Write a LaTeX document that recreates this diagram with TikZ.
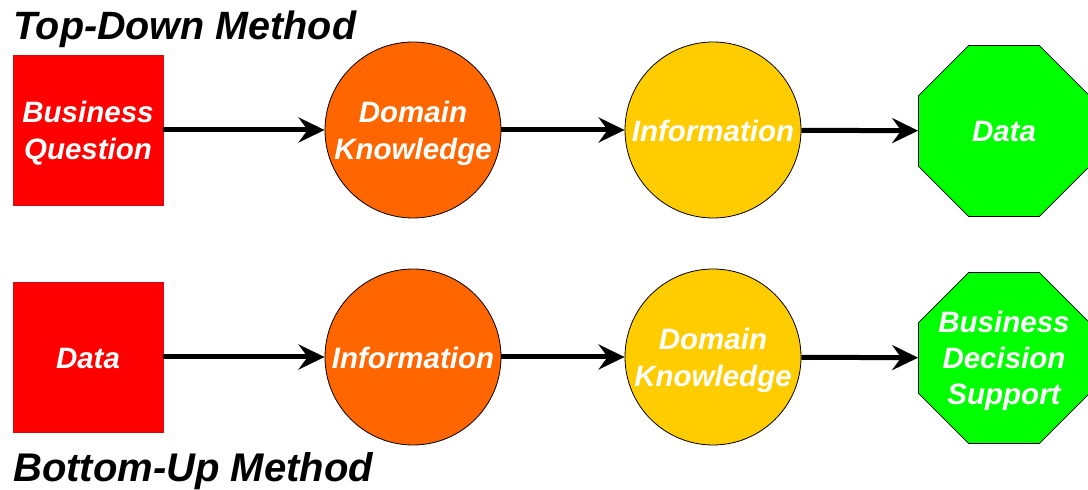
\documentclass[tikz,border=0pt]{standalone}
\usepackage{fontspec}
\setmainfont{Liberation Sans}
\usetikzlibrary{shapes.geometric,arrows.meta}
\definecolor{boxred}{HTML}{FF0000}
\definecolor{boxedge}{HTML}{D01010}
\definecolor{ballorange}{HTML}{FF6600}
\definecolor{ballyellow}{HTML}{FFCC00}
\definecolor{stopgreen}{HTML}{00FF00}
\tikzset{
  label text/.style={text=white, font=\fontsize{29.5}{37}\selectfont\bfseries\itshape, align=center, inner sep=0pt},
  squarebox/.style={rectangle, minimum size=150pt, inner sep=0pt, fill=boxred, draw=boxedge, line width=0.6pt},
  ball/.style={circle, minimum size=176pt, inner sep=0pt, draw=black, line width=0.8pt},
  stopsign/.style={regular polygon, regular polygon sides=8, minimum size=185pt, inner sep=0pt, fill=stopgreen, draw=black, line width=0.8pt},
  flow/.style={line width=5pt, -{Stealth[length=26pt, width=25pt, inset=9pt]}},
  heading/.style={anchor=base west, inner sep=0pt, font=\fontsize{39.5}{44}\selectfont\bfseries\itshape}
}
\begin{document}
\begin{tikzpicture}[x=1pt, y=1pt]
  \useasboundingbox (0,0) rectangle (1088,490);

  % top-down chain
  \node[heading] (tdtitle) at (13,450) {Top-Down Method};
  \node[squarebox] (tq) at (88,360) {};
  \node[ball, fill=ballorange] (tk) at (413,360) {};
  \node[ball, fill=ballyellow] (ti) at (713,360) {};
  \node[stopsign] (td) at (1004,359) {};
  \node[label text, yshift=-3.5pt] (tqtext) at (tq) {Business\\Question};
  \node[label text, yshift=-3.5pt] (tktext) at (tk) {Domain\\Knowledge};
  \node[label text, yshift=-1pt] (titext) at (ti) {Information};
  \node[label text, yshift=-1pt] (tdtext) at (td) {Data};
  \draw[flow] (tq) -- (tk);
  \draw[flow] (tk) -- (ti);
  \draw[flow] (ti) -- (td);

  % bottom-up chain
  \node[squarebox] (bd) at (88,133) {};
  \node[ball, fill=ballorange] (bi) at (413,133) {};
  \node[ball, fill=ballyellow] (bk) at (713,133) {};
  \node[stopsign] (bs) at (1004,132) {};
  \node[label text, yshift=-1pt] (bdtext) at (bd) {Data};
  \node[label text, yshift=-1pt] (bitext) at (bi) {Information};
  \node[label text, yshift=-3.5pt] (bktext) at (bk) {Domain\\Knowledge};
  \node[label text, font=\fontsize{29.5}{36}\selectfont\bfseries\itshape, yshift=-3pt] (bstext) at (bs) {Business\\Decision\\Support};
  \draw[flow] (bd) -- (bi);
  \draw[flow] (bi) -- (bk);
  \draw[flow] (bk) -- (bs);
  \node[heading, font=\fontsize{40}{44}\selectfont\bfseries\itshape] (butitle) at (13,8) {Bottom-Up Method};
\end{tikzpicture}
\end{document}
